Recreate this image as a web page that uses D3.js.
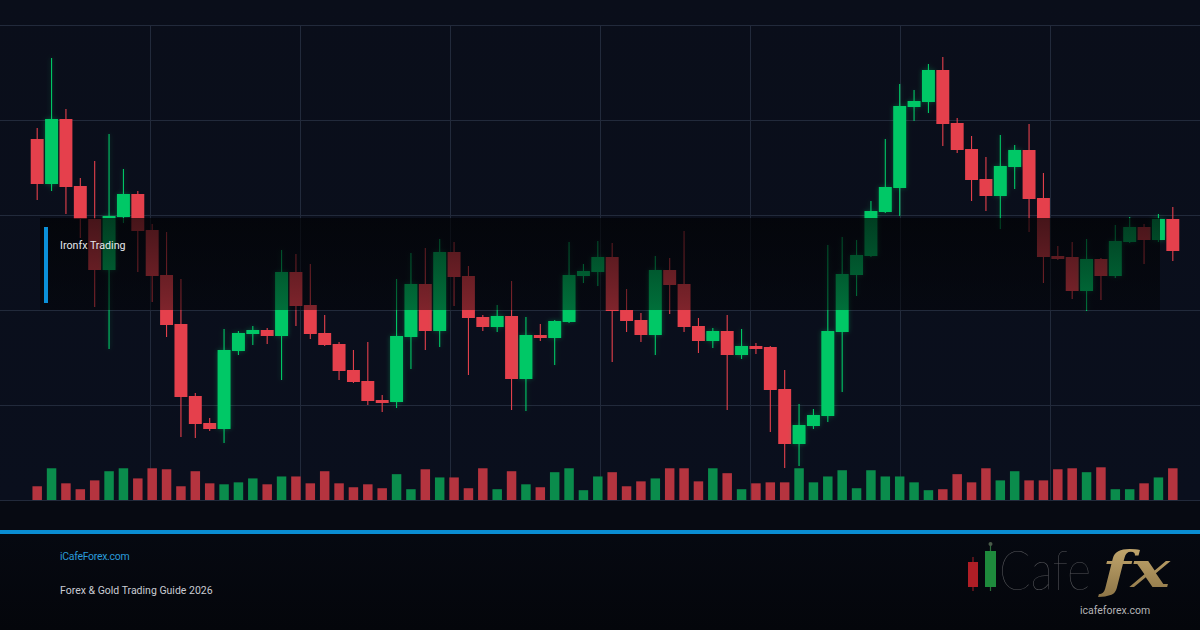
<!DOCTYPE html>
<html><head><meta charset="utf-8">
<script src="https://cdn.jsdelivr.net/npm/d3@7"></script>
<style>
html,body{margin:0;padding:0;background:#06080f;}
svg{display:block;}
</style></head><body>
<svg id="c" width="1200" height="630"></svg>
<script>
// ---- data ----
const opens  = [1972.2,1963.2,1976.2,1962.8,1956.2,1946.0,1956.6,1961.2,1954.0,1945.0,
                1935.2,1920.8,1915.4,1914.2,1929.8,1933.2,1934.0,1932.8,1945.6,1939.0,
                1933.4,1931.2,1926.0,1923.8,1920.0,1919.6,1932.6,1943.2,1933.8,1949.6,
                1944.8,1936.6,1934.6,1936.8,1924.2,1933.0,1932.4,1935.6,1944.8,1945.6,
                1948.6,1938.0,1936.0,1933.0,1946.0,1943.2,1934.8,1931.8,1933.8,1929.0,
                1930.8,1930.6,1922.2,1911.2,1914.8,1916.8,1933.6,1945.0,1948.8,1957.6,
                1962.4,1978.6,1979.6,1986.0,1975.4,1970.2,1964.2,1960.8,1966.6,1970.0,
                1960.4,1948.8,1948.6,1941.8,1948.2,1944.8,1951.6,1954.6,1952.0,1956.2];
const highs  = [1974.4,1988.4,1978.2,1964.4,1967.8,1973.2,1966.2,1961.8,1955.2,1953.6,
                1944.2,1921.4,1916.4,1934.2,1933.8,1934.8,1934.4,1950.0,1949.2,1947.2,
                1937.0,1931.6,1930.0,1931.6,1921.0,1944.2,1949.4,1950.4,1952.2,1951.6,
                1946.8,1937.0,1939.0,1943.8,1936.6,1935.2,1936.0,1951.6,1947.2,1951.8,
                1951.4,1942.2,1937.4,1948.8,1948.4,1953.8,1936.4,1934.4,1937.0,1934.2,
                1931.4,1930.8,1926.0,1919.2,1918.2,1951.0,1952.6,1952.0,1959.8,1972.2,
                1983.2,1982.0,1987.2,1988.6,1976.4,1972.8,1968.6,1973.0,1971.0,1975.2,
                1965.4,1950.8,1951.6,1952.2,1948.4,1955.0,1956.6,1955.2,1957.2,1958.6];
const lows   = [1960.0,1961.8,1957.2,1952.4,1938.6,1930.2,1955.4,1945.6,1939.6,1932.6,
                1912.6,1912.4,1913.8,1911.4,1929.0,1931.0,1931.2,1924.0,1934.8,1932.2,
                1930.8,1924.0,1923.4,1919.0,1917.6,1918.4,1926.2,1930.0,1930.6,1938.8,
                1925.0,1933.8,1933.6,1918.0,1917.8,1931.8,1927.0,1935.4,1943.4,1942.8,
                1927.6,1933.6,1931.6,1929.0,1937.2,1933.6,1929.4,1930.4,1918.0,1928.2,
                1929.2,1913.6,1906.4,1906.8,1914.2,1915.6,1921.6,1940.8,1948.6,1957.4,
                1956.8,1975.8,1977.4,1970.8,1969.4,1959.8,1957.8,1954.2,1962.2,1953.6,
                1943.4,1948.0,1940.2,1937.8,1940.0,1944.4,1951.4,1947.2,1951.6,1947.8];
const closes = [1963.2,1976.2,1962.6,1956.2,1946.0,1956.8,1961.2,1953.8,1944.8,1935.0,
                1920.6,1915.2,1914.2,1930.0,1933.4,1934.0,1932.8,1945.6,1938.8,1933.2,
                1931.0,1925.8,1923.6,1919.8,1919.4,1932.8,1943.2,1933.8,1949.6,1944.6,
                1936.4,1934.6,1936.8,1924.2,1933.0,1932.4,1935.8,1945.0,1945.8,1948.6,
                1937.8,1935.8,1933.0,1946.0,1943.0,1934.6,1931.8,1933.8,1929.0,1930.8,
                1930.2,1922.0,1911.2,1915.0,1917.0,1933.8,1945.2,1949.0,1957.8,1962.6,
                1978.8,1979.8,1986.0,1975.2,1970.0,1964.0,1960.8,1966.8,1970.0,1960.2,
                1948.6,1948.2,1941.8,1948.2,1944.8,1951.8,1954.6,1952.0,1956.2,1949.8];
const volumes = [42,97,51,33,60,88,97,66,97,94, 42,88,51,48,54,66,48,72,72,51,
                 88,51,39,48,36,79,33,94,69,69, 36,97,33,88,48,39,85,97,30,72,
                 85,42,57,66,97,97,57,97,82,33, 51,54,54,97,54,72,91,36,91,72,
                 72,54,30,33,79,54,97,60,88,60, 60,94,97,85,100,33,33,51,69,97];
const gridPrices = [1900,1919,1938,1957,1976,1995];
const gridCols = [1,2,3,4,5,6,7];
const labelText = "Ironfx Trading";
const siteText = "iCafeForex.com";
const guideText = "Forex & Gold Trading Guide 2026";
const logoWord = "Cafe";
const logoFx = "fx";
const logoUrl = "icafeforex.com";

// ---- drawing ----
const W = 1200, H = 630;
const svg = d3.select("#c");
const defs = svg.append("defs");

const idx = d3.range(opens.length);
const x = d3.scaleBand().domain(idx).range([30, 1180]).padding(0);
const y = d3.scaleLinear().domain([1900, 1995]).range([500, 25]);
const yv = d3.scaleLinear().domain([0, 100]).range([500, 467.3]);
const gx = d3.scaleLinear().domain([0, 8]).range([0, 1200]);

const RED = "#e5404c", GREEN = "#05c866";
const VRED = "#b5343f", VGREEN = "#0a8c4c";

// backgrounds
const bgG = defs.append("linearGradient").attr("id","bgG").attr("x1",0).attr("y1",0).attr("x2",0).attr("y2",1);
bgG.append("stop").attr("offset","0%").attr("stop-color","#0a0e1a");
bgG.append("stop").attr("offset","100%").attr("stop-color","#0a0f1d");
svg.append("rect").attr("width",W).attr("height",500).attr("fill","url(#bgG)");
svg.append("rect").attr("y",500).attr("width",W).attr("height",30).attr("fill","#070a12");
const ftG = defs.append("linearGradient").attr("id","ftG").attr("x1",0).attr("y1",0).attr("x2",0).attr("y2",1);
ftG.append("stop").attr("offset","0%").attr("stop-color","#060911");
ftG.append("stop").attr("offset","100%").attr("stop-color","#04060b");
svg.append("rect").attr("y",533).attr("width",W).attr("height",97).attr("fill","url(#ftG)");

// grid
const grid = svg.append("g").attr("stroke","#222a3b").attr("stroke-width",1).attr("shape-rendering","crispEdges");
grid.selectAll("line.h").data(gridPrices).join("line")
  .attr("x1",0).attr("x2",W).attr("y1",d=>Math.round(y(d))+0.5).attr("y2",d=>Math.round(y(d))+0.5);
grid.selectAll("line.v").data(gridCols).join("line").attr("class","v")
  .attr("x1",d=>Math.round(gx(d))+0.5).attr("x2",d=>Math.round(gx(d))+0.5)
  .attr("y1",y(1995)).attr("y2",y(1900));

// volume bars
const vw = x.step()*0.66;
svg.append("g").selectAll("rect").data(idx).join("rect")
  .attr("x",i=>x(i)+x.bandwidth()/2-vw/2)
  .attr("width",vw)
  .attr("y",i=>yv(volumes[i]))
  .attr("height",i=>500-yv(volumes[i]))
  .attr("fill",i=>closes[i]>=opens[i]?VGREEN:VRED);

// glow
const glow = defs.append("filter").attr("id","glow").attr("x","-50%").attr("y","-20%").attr("width","200%").attr("height","140%");
glow.append("feGaussianBlur").attr("in","SourceGraphic").attr("stdDeviation",2.5).attr("result","b");
glow.append("feComponentTransfer").attr("in","b").attr("result","b2")
  .append("feFuncA").attr("type","linear").attr("slope",0.35);
const fm = glow.append("feMerge");
fm.append("feMergeNode").attr("in","b2");
fm.append("feMergeNode").attr("in","SourceGraphic");

// candles
const cg = svg.append("g");
const bw = x.step()*0.9;
const candle = cg.selectAll("g").data(idx).join("g")
  .attr("filter",i=>closes[i]>=opens[i]?"url(#glow)":null);
candle.append("line")
  .attr("x1",i=>x(i)+x.bandwidth()/2).attr("x2",i=>x(i)+x.bandwidth()/2)
  .attr("y1",i=>y(highs[i])).attr("y2",i=>y(lows[i]))
  .attr("stroke",i=>closes[i]>=opens[i]?GREEN:RED).attr("stroke-width",1.1);
candle.append("rect")
  .attr("x",i=>x(i)+x.bandwidth()/2-bw/2).attr("width",bw)
  .attr("y",i=>y(Math.max(opens[i],closes[i])))
  .attr("height",i=>Math.max(1.5, Math.abs(y(opens[i])-y(closes[i]))))
  .attr("fill",i=>closes[i]>=opens[i]?GREEN:RED);

// dark label overlay
const ovG = defs.append("linearGradient").attr("id","ovG").attr("x1",0).attr("y1",0).attr("x2",0).attr("y2",1);
ovG.append("stop").attr("offset","0%").attr("stop-color","#010204").attr("stop-opacity",0.7);
ovG.append("stop").attr("offset","100%").attr("stop-color","#010204").attr("stop-opacity",0.45);
svg.append("rect").attr("x",40).attr("y",218).attr("width",1120).attr("height",92).attr("fill","url(#ovG)");
svg.append("rect").attr("x",44).attr("y",227).attr("width",4).attr("height",76).attr("fill","#0b90d8");
svg.append("text").attr("x",60).attr("y",249).text(labelText)
  .attr("font-family","Roboto, 'Open Sans', sans-serif").attr("font-size",10.7).attr("fill","#e6e8ec");

// footer
svg.append("rect").attr("x",0).attr("y",530).attr("width",W).attr("height",4).attr("fill","#0a8dd3");
svg.append("text").attr("x",60).attr("y",560).text(siteText)
  .attr("font-family","Roboto, sans-serif").attr("font-size",10.5).attr("letter-spacing",-0.3).attr("fill","#2a9ad8");
svg.append("text").attr("x",60).attr("y",594).text(guideText)
  .attr("font-family","Roboto, sans-serif").attr("font-size",10.5).attr("fill","#c9ccd3");

// logo
const lg = svg.append("g");
lg.append("line").attr("x1",973).attr("x2",973).attr("y1",557).attr("y2",591).attr("stroke","#8a1c22").attr("stroke-width",1.2);
lg.append("rect").attr("x",968).attr("y",562).attr("width",10).attr("height",25).attr("fill","#b01e26");
lg.append("line").attr("x1",990.5).attr("x2",990.5).attr("y1",544).attr("y2",591).attr("stroke","#2a6a3a").attr("stroke-width",1.2);
lg.append("circle").attr("cx",990.5).attr("cy",544).attr("r",2).attr("fill","#4a5a4a");
lg.append("rect").attr("x",985).attr("y",551).attr("width",11).attr("height",36).attr("fill","#1e8a3c");

// fit a word into a target width by font size, then stretch vertically to keep its height
function fitWord(g, str, x0, yBase, baseSize, targetW, attrs){
  const t = g.append("text").text(str).attr("x",0).attr("y",0).attr("font-size",baseSize);
  Object.entries(attrs).forEach(([k,v])=>t.attr(k,v));
  const L = t.node().getComputedTextLength();
  const fs = baseSize*targetW/L;
  t.attr("font-size",fs).attr("transform",`translate(${x0},${yBase}) scale(1,${(baseSize/fs).toFixed(3)})`);
  return t;
}
fitWord(lg, logoWord, 999, 590, 56, 92,
  {"font-family":"Lato, Roboto, sans-serif","font-weight":200,"fill":"#56575b"});
const gold = defs.append("linearGradient").attr("id","gold").attr("x1",0).attr("y1",0).attr("x2",0).attr("y2",1);
gold.append("stop").attr("offset","0%").attr("stop-color","#c9ad72");
gold.append("stop").attr("offset","100%").attr("stop-color","#8c7446");
fitWord(lg, logoFx, 1102, 587, 50, 68,
  {"font-family":"'DejaVu Serif', 'Liberation Serif', serif","font-style":"italic","font-weight":"bold","fill":"url(#gold)"});
lg.append("text").attr("x",1080).attr("y",614).text(logoUrl)
  .attr("font-family","Roboto, sans-serif").attr("font-size",10.5).attr("fill","#b4b4b6");
</script>
</body></html>
